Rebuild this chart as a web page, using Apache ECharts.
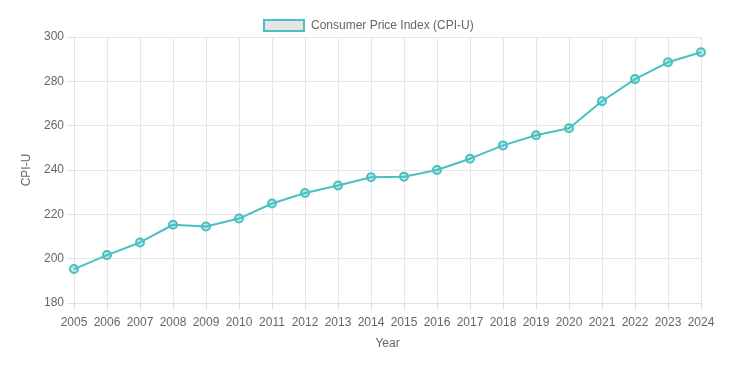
<!DOCTYPE html>
<html><head><meta charset="utf-8">
<script src="https://cdn.jsdelivr.net/npm/echarts@6/dist/echarts.min.js"></script>
<style>html,body{margin:0;padding:0;background:#fff}#c{width:732px;height:368px}</style>
</head><body><div id="c"></div>
<script>
const years = ['2005','2006','2007','2008','2009','2010','2011','2012','2013','2014','2015','2016','2017','2018','2019','2020','2021','2022','2023','2024'];
const cpi = [195.3,201.6,207.3,215.3,214.5,218.1,224.9,229.6,233.0,236.7,237.0,240.0,245.1,251.1,255.7,258.8,271.0,281.0,288.6,293.1];
const seriesName = 'Consumer Price Index (CPI-U)';
const yTicks = {min:180, max:300, interval:20};
const font = 'Liberation Sans, Arial, Helvetica, sans-serif';
const chart = echarts.init(document.getElementById('c'), null, {renderer:'canvas'});
chart.setOption({
  animation:false,
  textStyle:{fontFamily:font},
  legend:{
    top:14, left:258, itemWidth:40, itemHeight:11, itemGap:10, icon:'rect',
    textStyle:{color:'#666', fontSize:12, fontFamily:font, padding:[0,0,0,2]},
    data:[{name:seriesName, itemStyle:{color:'#e6e6e6', borderColor:'#4bc0c0', borderWidth:2}}]
  },
  grid:{left:74, right:31, top:37, bottom:65, containLabel:false},
  xAxis:{
    type:'category', data:years, boundaryGap:false,
    name:'Year', nameLocation:'middle', nameGap:35,
    nameTextStyle:{color:'#666', fontSize:12, fontFamily:font},
    axisLine:{show:true, lineStyle:{color:'#e0e0e0'}},
    axisTick:{show:true, length:7, alignWithLabel:true, lineStyle:{color:'#e0e0e0'}},
    axisLabel:{color:'#666', fontSize:12, margin:14, interval:0, fontFamily:font},
    splitLine:{show:true, lineStyle:{color:'#e6e6e6'}}
  },
  yAxis:{
    type:'value', min:yTicks.min, max:yTicks.max, interval:yTicks.interval,
    name:'CPI-U', nameLocation:'middle', nameGap:31, nameRotate:90,
    nameTextStyle:{color:'#666', fontSize:12, fontFamily:font},
    axisLine:{show:true, lineStyle:{color:'#e0e0e0'}},
    axisTick:{show:true, length:7, lineStyle:{color:'#e0e0e0'}},
    axisLabel:{color:'#666', fontSize:12, margin:10, fontFamily:font},
    splitLine:{show:true, lineStyle:{color:'#e6e6e6'}}
  },
  series:[{
    name:seriesName, type:'line', data:cpi,
    symbol:'circle', symbolSize:8, showAllSymbol:true,
    lineStyle:{color:'#4bc0c0', width:2},
    itemStyle:{color:'rgba(75,192,192,0.35)', borderColor:'#4bc0c0', borderWidth:2}
  }]
});
</script></body></html>
